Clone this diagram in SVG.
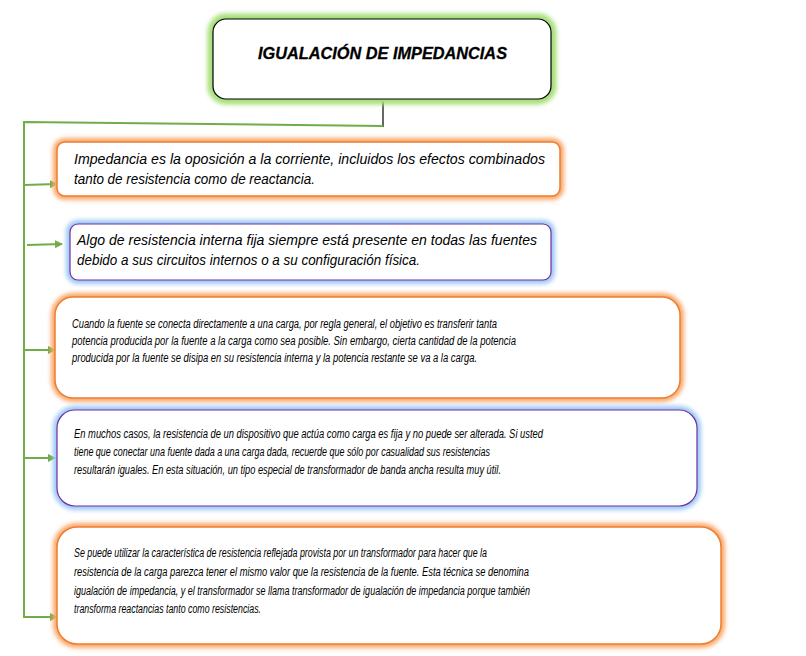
<svg xmlns="http://www.w3.org/2000/svg" width="806" height="656" viewBox="0 0 806 656">
<style>
.t{font-family:"Liberation Sans","Open Sans",sans-serif;font-style:italic;fill:#000}
.title{font-family:"Liberation Sans",Arial,sans-serif;font-style:italic;font-weight:bold;font-size:16.5px;fill:#000;stroke:#000;stroke-width:0.3}
.glowO{fill:none;stroke:#f9a86a;stroke-width:8;filter:url(#blur)}
.glowB{fill:none;stroke:#9cc8f5;stroke-width:8;filter:url(#blur)}
.glowG{fill:none;stroke:#a6df7a;stroke-width:11;filter:url(#blur)}
.boxO{fill:#fff;stroke:#ed7d31;stroke-width:1.5}
.boxB{fill:#fff;stroke:#7030a0;stroke-width:1.2}
.boxG{fill:#fff;stroke:#000;stroke-width:1.2}
.con{fill:none;stroke:#70ad47;stroke-width:2}
</style>
<defs>
<filter id="blur" x="-10%" y="-30%" width="120%" height="160%"><feGaussianBlur stdDeviation="2"/></filter>
<marker id="arr" markerWidth="8" markerHeight="8" refX="7" refY="4" orient="auto" markerUnits="userSpaceOnUse"><path d="M0,0 L8,4 L0,8 z" fill="#70ad47"/></marker>
</defs>
<rect width="806" height="656" fill="#fff"/>
<g id="connectors">
<line x1="383" y1="99" x2="383" y2="127" stroke="#000" stroke-width="1.2"/>
<polyline class="con" points="383,126 24,122 24,618"/>
<line class="con" x1="24" y1="185" x2="57" y2="184" marker-end="url(#arr)"/>
<line class="con" x1="27" y1="245" x2="62" y2="244" marker-end="url(#arr)"/>
<line class="con" x1="24" y1="350" x2="55" y2="350" marker-end="url(#arr)"/>
<line class="con" x1="24" y1="458" x2="55" y2="458" marker-end="url(#arr)"/>
<line class="con" x1="24" y1="617" x2="57" y2="617" marker-end="url(#arr)"/>
</g>
<g id="title">
<rect class="glowG" x="213" y="19" width="338" height="80" rx="13"/>
<rect class="boxG" x="213" y="19" width="338" height="80" rx="13"/>
<text class="title" x="258" y="59" textLength="249" lengthAdjust="spacingAndGlyphs">IGUALACIÓN DE IMPEDANCIAS</text>
</g>
<g id="node1">
<rect class="glowO" x="57" y="142" width="503" height="54" rx="8"/>
<rect class="boxO" x="57" y="142" width="503" height="54" rx="8"/>
<text class="t" font-size="14.5"><tspan x="74" y="164" textLength="471" lengthAdjust="spacingAndGlyphs">Impedancia es la oposición a la corriente, incluidos los efectos combinados</tspan><tspan x="74" y="184" textLength="241" lengthAdjust="spacingAndGlyphs">tanto de resistencia como de reactancia.</tspan></text>
</g>
<g id="node2">
<rect class="glowB" x="70" y="224" width="481" height="56" rx="8"/>
<rect class="boxB" x="70" y="224" width="481" height="56" rx="8"/>
<text class="t" font-size="14.5"><tspan x="77" y="245" textLength="460" lengthAdjust="spacingAndGlyphs">Algo de resistencia interna fija siempre está presente en todas las fuentes</tspan><tspan x="77" y="265" textLength="343" lengthAdjust="spacingAndGlyphs">debido a sus circuitos internos o a su configuración física.</tspan></text>
</g>
<g id="node3">
<rect class="glowO" x="55" y="297" width="625" height="101" rx="18"/>
<rect class="boxO" x="55" y="297" width="625" height="101" rx="18"/>
<text class="t" font-size="12.3"><tspan x="72" y="328" textLength="425" lengthAdjust="spacingAndGlyphs">Cuando la fuente se conecta directamente a una carga, por regla general, el objetivo es transferir tanta</tspan><tspan x="72" y="345" textLength="444" lengthAdjust="spacingAndGlyphs">potencia producida por la fuente a la carga como sea posible. Sin embargo, cierta cantidad de la potencia</tspan><tspan x="72" y="362" textLength="405" lengthAdjust="spacingAndGlyphs">producida por la fuente se disipa en su resistencia interna y la potencia restante se va a la carga.</tspan></text>
</g>
<g id="node4">
<rect class="glowB" x="57" y="410" width="640" height="96" rx="18"/>
<rect class="boxB" x="57" y="410" width="640" height="96" rx="18"/>
<text class="t" font-size="12.5"><tspan x="74" y="438" textLength="469" lengthAdjust="spacingAndGlyphs">En muchos casos, la resistencia de un dispositivo que actúa como carga es fija y no puede ser alterada. Si usted</tspan><tspan x="74" y="456" textLength="416" lengthAdjust="spacingAndGlyphs">tiene que conectar una fuente dada a una carga dada, recuerde que sólo por casualidad sus resistencias</tspan><tspan x="74" y="474" textLength="427" lengthAdjust="spacingAndGlyphs">resultarán iguales. En esta situación, un tipo especial de transformador de banda ancha resulta muy útil.</tspan></text>
</g>
<g id="node5">
<rect class="glowO" x="57" y="527" width="664" height="117" rx="20"/>
<rect class="boxO" x="57" y="527" width="664" height="117" rx="20"/>
<text class="t" font-size="12.5"><tspan x="74" y="557" textLength="413" lengthAdjust="spacingAndGlyphs">Se puede utilizar la característica de resistencia reflejada provista por un transformador para hacer que la</tspan><tspan x="74" y="576" textLength="455" lengthAdjust="spacingAndGlyphs">resistencia de la carga parezca tener el mismo valor que la resistencia de la fuente. Esta técnica se denomina</tspan><tspan x="74" y="595" textLength="456" lengthAdjust="spacingAndGlyphs">igualación de impedancia, y el transformador se llama transformador de igualación de impedancia porque también</tspan><tspan x="74" y="613" textLength="187" lengthAdjust="spacingAndGlyphs">transforma reactancias tanto como resistencias.</tspan></text>
</g>
</svg>
